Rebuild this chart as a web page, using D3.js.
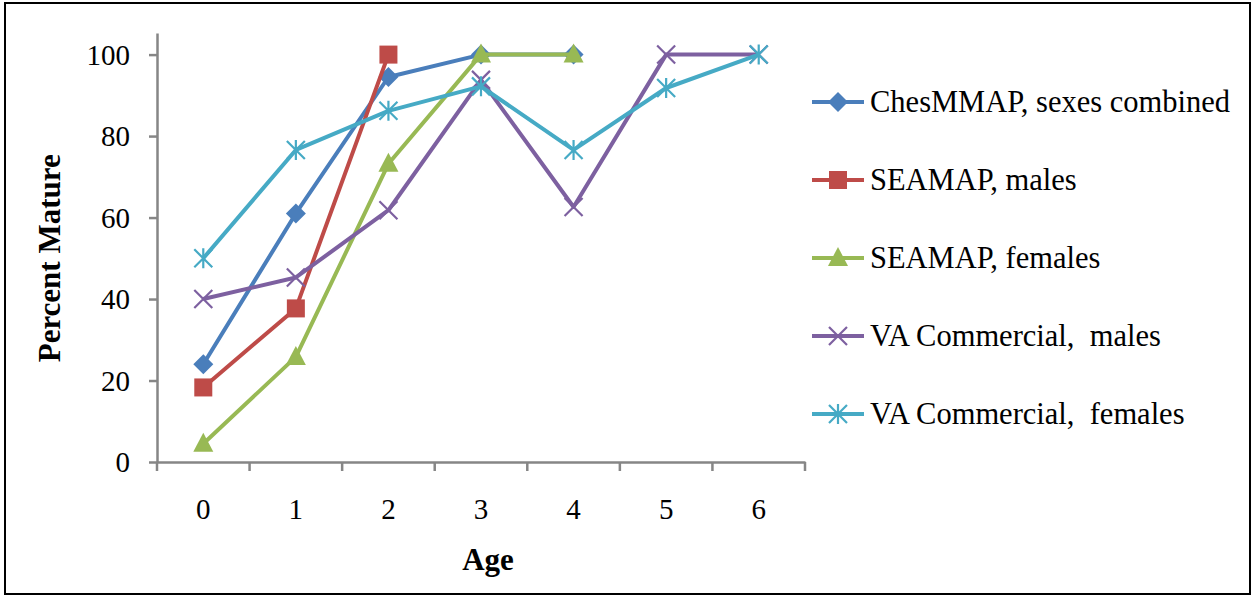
<!DOCTYPE html>
<html>
<head>
<meta charset="utf-8">
<script src="https://cdn.jsdelivr.net/npm/d3@7"></script>
<style>
  body { margin: 0; background: #fff; }
  svg text { font-family: "Liberation Serif", "Times New Roman", serif; fill: #000; }
</style>
</head>
<body>
<svg id="chart" width="1252" height="596"></svg>
<script>
const ages = [0, 1, 2, 3, 4, 5, 6];
const yTicks = [0, 20, 40, 60, 80, 100];
const chesmmap = [24, 61, 94.5, 100, 100];
const seamapMales = [18.3, 37.7, 100];
const seamapFemales = [4.5, 25.8, 73.2, 100, 100];
const vaMales = [40, 45.3, 61.8, 93.8, 62.6, 100, 100];
const vaFemales = [50, 76.6, 86.2, 92.2, 76.6, 91.8, 100];
const seriesNames = ["ChesMMAP, sexes combined", "SEAMAP, males", "SEAMAP, females", "VA Commercial,  males", "VA Commercial,  females"];
const seriesColors = ["#4a7ebb", "#be4b48", "#98b954", "#7d60a0", "#46aac5"];
const seriesMarkers = ["diamond", "square", "triangle", "x", "star"];

const series = [chesmmap, seamapMales, seamapFemales, vaMales, vaFemales].map((vals, i) => ({
  name: seriesNames[i],
  color: seriesColors[i],
  marker: seriesMarkers[i],
  values: vals.map((v, j) => ({ age: ages[j], value: v })),
}));

const svg = d3.select("#chart");
const margin = { left: 157, right: 447, top: 33, bottom: 134 };
const width = 1252, height = 596;

// outer frame
svg.append("rect").attr("x", 5).attr("y", 3).attr("width", 1245).attr("height", 591)
  .attr("fill", "#fff").attr("stroke", "#000").attr("stroke-width", 2);

const x = d3.scaleBand().domain(ages).range([margin.left, width - margin.right]);
const y = d3.scaleLinear().domain([0, 105.3]).range([height - margin.bottom, margin.top]);

const axisColor = "#868686";

const yAxis = svg.append("g").attr("transform", `translate(${margin.left},0)`)
  .call(d3.axisLeft(y).tickValues(yTicks).tickSize(8).tickSizeOuter(0).tickPadding(19));
const xAxis = svg.append("g").attr("transform", `translate(0,${y(0)})`)
  .call(d3.axisBottom(x).tickSize(0).tickSizeOuter(0).tickPadding(36));

[xAxis, yAxis].forEach((g) => {
  g.select(".domain").attr("stroke", axisColor).attr("stroke-width", 2.5);
  g.selectAll(".tick line").attr("stroke", axisColor).attr("stroke-width", 2.5);
  g.selectAll("text").style("font-size", "29px").attr("font-family", null);
});
yAxis.selectAll("text").attr("dy", "0.34em");

// x ticks sit between categories
svg.append("g").selectAll("line")
  .data(ages.concat([ages.length]))
  .enter()
  .append("line")
  .attr("x1", (d) => (d < ages.length ? x(d) : x(ages[ages.length - 1]) + x.bandwidth()))
  .attr("x2", (d) => (d < ages.length ? x(d) : x(ages[ages.length - 1]) + x.bandwidth()))
  .attr("y1", y(0))
  .attr("y2", y(0) + 9)
  .attr("stroke", axisColor)
  .attr("stroke-width", 2.5);

svg.append("text").attr("x", 488).attr("y", 570)
  .attr("text-anchor", "middle").style("font-size", "31px").style("font-weight", "bold").text("Age");
svg.append("text").attr("transform", `translate(60,${(y(0) + y(100)) / 2}) rotate(-90)`)
  .attr("text-anchor", "middle").style("font-size", "31px").style("font-weight", "bold").text("Percent Mature");

const cx = (d) => x(d.age) + x.bandwidth() / 2;
const line = d3.line().x(cx).y((d) => y(d.value));

function drawMarker(g, type, color) {
  if (type === "diamond") {
    g.append("path").attr("d", "M0,-10L10,0L0,10L-10,0Z").attr("fill", color);
  } else if (type === "square") {
    g.append("rect").attr("x", -9).attr("y", -9).attr("width", 18).attr("height", 18).attr("fill", color);
  } else if (type === "triangle") {
    g.append("path").attr("d", "M0,-11L10,8L-10,8Z").attr("fill", color);
  } else if (type === "x") {
    g.append("path").attr("d", "M-9,-9L9,9M-9,9L9,-9").attr("stroke", color).attr("stroke-width", 2.2).attr("fill", "none");
  } else if (type === "star") {
    g.append("path").attr("d", "M-9,-9L9,9M-9,9L9,-9M0,-10V10").attr("stroke", color).attr("stroke-width", 2.2).attr("fill", "none");
  }
}

series.forEach((s) => {
  const g = svg.append("g");
  g.append("path").datum(s.values).attr("d", line)
    .attr("fill", "none").attr("stroke", s.color).attr("stroke-width", 4).attr("stroke-linejoin", "round");
  s.values.forEach((d) => {
    const m = g.append("g").attr("transform", `translate(${cx(d)},${y(d.value)})`);
    drawMarker(m, s.marker, s.color);
  });
});

// legend
const legendY = d3.scalePoint().domain(seriesNames).range([102, 414]);
series.forEach((s) => {
  const ly = legendY(s.name);
  const g = svg.append("g").attr("transform", `translate(838,${ly})`);
  g.append("line").attr("x1", -26).attr("x2", 26).attr("stroke", s.color).attr("stroke-width", 4);
  drawMarker(g, s.marker, s.color);
  svg.append("text").attr("x", 870).attr("y", ly).attr("dy", "0.34em")
    .style("font-size", "30.5px").style("white-space", "pre").text(s.name);
});
</script>
</body>
</html>
